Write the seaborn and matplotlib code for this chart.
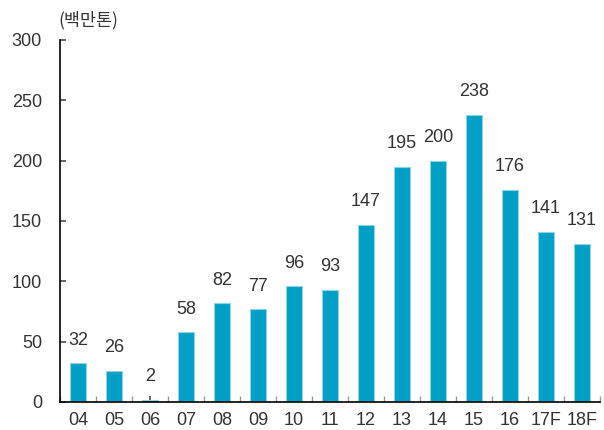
import numpy as np
import pandas as pd
import matplotlib
matplotlib.use("Agg")
import matplotlib.pyplot as plt
import seaborn as sns

years = ["04", "05", "06", "07", "08", "09", "10", "11", "12", "13", "14", "15", "16", "17F", "18F"]
volumes = [32, 26, 2, 58, 82, 77, 96, 93, 147, 195, 200, 238, 176, 141, 131]
unit_label = "(백만톤)"

sns.set_theme(style="white")
plt.rcParams["font.family"] = ["Liberation Sans", "Noto Sans CJK KR", "DejaVu Sans"]

df = pd.DataFrame({"year": years, "volume": volumes})

fig = plt.figure(figsize=(6.04, 4.30), dpi=100)
ax = fig.add_axes([60 / 604, 28 / 430, 540 / 604, 362 / 430])

sns.barplot(data=df, x="year", y="volume", order=years, color="#00a0c6",
            saturation=1, width=0.42, edgecolor="#8fd3e6", linewidth=0.8, ax=ax)

for i, v in enumerate(volumes):
    ax.text(i, v + 12, f"{v}", ha="center", va="bottom", fontsize=13, color="#333333")

ax.set_xlim(-0.5, len(years) - 0.5)
ax.set_ylim(0, 300)
ax.set_yticks(range(0, 301, 50))
ax.set_xlabel("")
ax.set_ylabel("")

for s in ["top", "right"]:
    ax.spines[s].set_visible(False)
for s in ["left", "bottom"]:
    ax.spines[s].set_color("black")
    ax.spines[s].set_linewidth(1.2)

ax.tick_params(axis="y", direction="in", length=4, color="#555555", labelsize=13,
               labelcolor="#333333", pad=13, left=True)
ax.tick_params(axis="x", direction="in", length=4, color="#555555", labelsize=13,
               labelcolor="#333333", pad=7, bottom=True)
ax.set_xticks(np.arange(-0.5, len(years) + 0.5, 1), minor=True)
ax.tick_params(axis="x", which="minor", direction="in", length=4, color="#999999", bottom=True)

fig.text(58 / 604, 1 - 20 / 430, unit_label, ha="left", va="center", fontsize=12.5,
         color="#333333", family=["Noto Sans CJK KR", "DejaVu Sans"])

fig.savefig("out.png", dpi=100)
